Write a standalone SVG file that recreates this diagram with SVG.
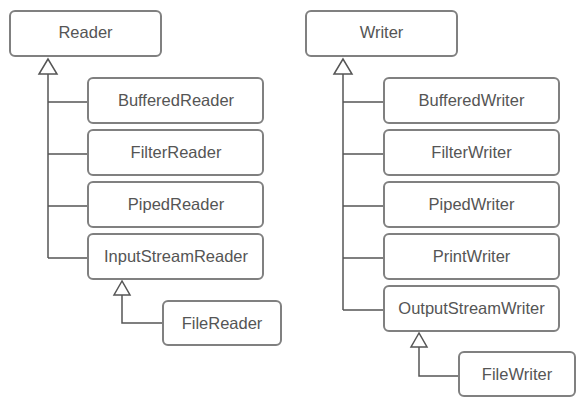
<svg xmlns="http://www.w3.org/2000/svg" width="585" height="407" viewBox="0 0 585 407">
<style>
.box{fill:#fff;stroke:#808080;stroke-width:2}
.t{font-family:"Liberation Sans",Arial,sans-serif;font-size:16.5px;fill:#555;text-anchor:middle}
.c{fill:none;stroke:#555;stroke-width:1.5}
.tri{fill:#fff;stroke:#555;stroke-width:1.5}
</style>
<rect width="585" height="407" fill="#fff"/>
<g id="connectors">
<path class="c" d="M48 74V258M48 102H88M48 154H88M48 206H88M48 258H88"/>
<polygon class="tri" points="48,59 39,74 57,74"/>
<path class="c" d="M122 295V323H163"/>
<polygon class="tri" points="122,281 114,295 130,295"/>
<path class="c" d="M343 74V310M343 102H384M343 154H384M343 206H384M343 258H384M343 310H384"/>
<polygon class="tri" points="343,59 334,74 352,74"/>
<path class="c" d="M419 347V376H459"/>
<polygon class="tri" points="419,333 411,347 427,347"/>
</g>
<g id="Reader"><rect class="box" x="10" y="11" width="151" height="45" rx="5"/><text class="t" x="85.5" y="37.5">Reader</text></g>
<g id="BufferedReader"><rect class="box" x="88" y="78" width="175" height="45" rx="5"/><text class="t" x="176" y="106">BufferedReader</text></g>
<g id="FilterReader"><rect class="box" x="88" y="130" width="175" height="45" rx="5"/><text class="t" x="176" y="157.5">FilterReader</text></g>
<g id="PipedReader"><rect class="box" x="88" y="182" width="175" height="45" rx="5"/><text class="t" x="176" y="209.5">PipedReader</text></g>
<g id="InputStreamReader"><rect class="box" x="88" y="234" width="175" height="45" rx="5"/><text class="t" x="176" y="261.5">InputStreamReader</text></g>
<g id="FileReader"><rect class="box" x="163" y="301" width="118" height="44" rx="5"/><text class="t" x="222" y="328.5">FileReader</text></g>
<g id="Writer"><rect class="box" x="306" y="11" width="151" height="45" rx="5"/><text class="t" x="381.5" y="37.5">Writer</text></g>
<g id="BufferedWriter"><rect class="box" x="384" y="78" width="175" height="45" rx="5"/><text class="t" x="471.5" y="106">BufferedWriter</text></g>
<g id="FilterWriter"><rect class="box" x="384" y="130" width="175" height="45" rx="5"/><text class="t" x="471.5" y="157.5">FilterWriter</text></g>
<g id="PipedWriter"><rect class="box" x="384" y="182" width="175" height="45" rx="5"/><text class="t" x="471.5" y="209.5">PipedWriter</text></g>
<g id="PrintWriter"><rect class="box" x="384" y="234" width="175" height="45" rx="5"/><text class="t" x="471.5" y="261.5">PrintWriter</text></g>
<g id="OutputStreamWriter"><rect class="box" x="384" y="286" width="175" height="45" rx="5"/><text class="t" x="471.5" y="313.5">OutputStreamWriter</text></g>
<g id="FileWriter"><rect class="box" x="459" y="352" width="116" height="44" rx="5"/><text class="t" x="517" y="379.5">FileWriter</text></g>
</svg>
